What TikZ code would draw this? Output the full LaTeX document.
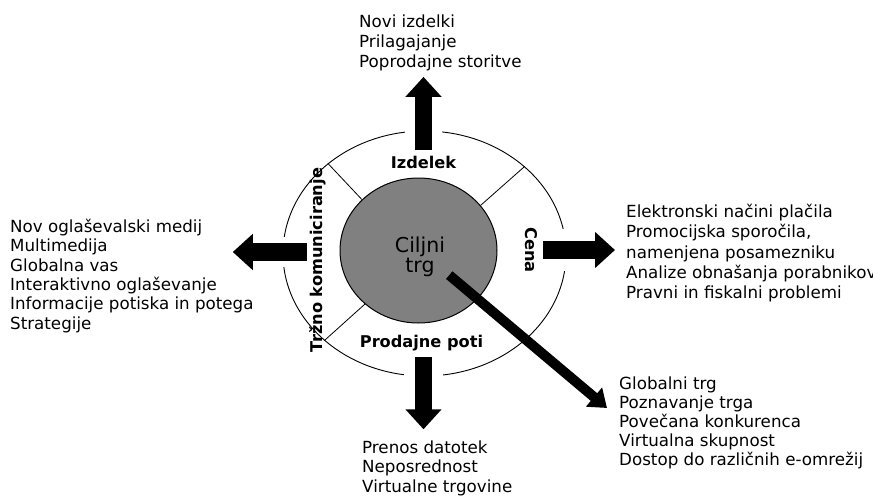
\documentclass[tikz,border=0pt]{standalone}
\usepackage{fontspec}
\setmainfont{DejaVu Sans}
\usetikzlibrary{arrows.meta,shapes.geometric,positioning,calc}
\definecolor{coregray}{RGB}{128,128,128}

\begin{document}
\begin{tikzpicture}[x=1pt,y=-1pt,
      ring/.style={draw=black,line width=0.9pt,ellipse,inner sep=0pt,minimum width=283pt,minimum height=245pt},
      core/.style={draw=black,line width=1pt,ellipse,fill=coregray,inner sep=0pt,minimum width=157pt,minimum height=145pt},
      sector/.style={font=\fontsize{16.2}{19}\selectfont\bfseries,inner sep=0pt},
      items/.style={font=\fontsize{16.7}{#1}\selectfont,align=left,anchor=north west,inner sep=0pt},
      sep/.style={black,line width=0.8pt},
      halo/.style={preaction={draw=white,line width=#1,-}},
      big/.style={line width=17.5pt,-{Triangle[width=35pt,length=20pt]}},
      diag/.style={line width=10pt,-{Triangle[width=24pt,length=17pt]}}]
    \useasboundingbox (0,0) rectangle (873,498);
    % ring and core
    \node[ring] (ring) at (424.5,253.5) {};
    \node[core] (trg) at (418.5,250.5) {};
    \node[align=center,inner sep=0pt,font=\fontsize{20.5}{20}\selectfont] (target) at (420,257) {Ciljni\\trg};
    \draw[sep] (trg.138) -- (ring.137);
    \draw[sep] (trg.36) -- (ring.41);
    \draw[sep] (trg.225) -- (ring.221);
    % sector names
    \node[sector,anchor=base] (izdelek) at (423.5,168) {Izdelek};
    \node[sector,anchor=base] (poti) at (421.5,347) {Prodajne poti};
    \node[sector,rotate=-90] (cena) at (531,250) {Cena};
    \node[sector,rotate=90] (komun) at (318,260) {Tržno komuniciranje};
    % lists
    \node[items=20] (novi) at (359,14.3) {Novi izdelki\\Prilagajanje\\Poprodajne storitve};
    \node[items=19.3] (medij) at (10,219) {Nov oglaševalski medij\\Multimedija\\Globalna vas\\Interaktivno oglaševanje\\Informacije potiska in potega\\Strategije};
    \node[items=20.3] (placila) at (626,204) {Elektronski načini plačila\\Promocijska sporočila,\\namenjena posamezniku\\Analize obnašanja porabnikov\\Pravni in fiskalni problemi};
    \node[items=19] (globalni) at (619,376.5) {Globalni trg\\Poznavanje trga\\Povečana konkurenca\\Virtualna skupnost\\Dostop do različnih e-omrežij};
    \node[items=19.5] (prenos) at (362,440.3) {Prenos datotek\\Neposrednost\\Virtualne trgovine};
    % arrows
    \coordinate (izdelek out) at ([yshift=5pt]izdelek.north);
    \coordinate (poti out) at ([xshift=2pt,yshift=-6pt]poti.south);
    \coordinate (cena out) at ([xshift=6pt]cena.north);
    \coordinate (komun out) at ([xshift=-3pt,yshift=8pt]komun.north);
    \coordinate (trg out) at ([xshift=4pt,yshift=2pt]target.south east);
    \draw[big,halo=37pt,shorten >=6pt] (izdelek out) -- (izdelek out |- novi.south);
    \draw[big,halo=39pt,shorten >=11pt] (poti out) -- (poti out |- prenos.north);
    \draw[big,halo=42pt,shorten >=11pt] (cena out) -- (cena out -| placila.west);
    \draw[big,halo=30pt,shorten >=-21pt] (komun out) -- (komun out -| medij.east);
    \draw[diag] (trg out) -- ([xshift=-12pt,yshift=-31.5pt]globalni.north west);
\end{tikzpicture}
\end{document}
